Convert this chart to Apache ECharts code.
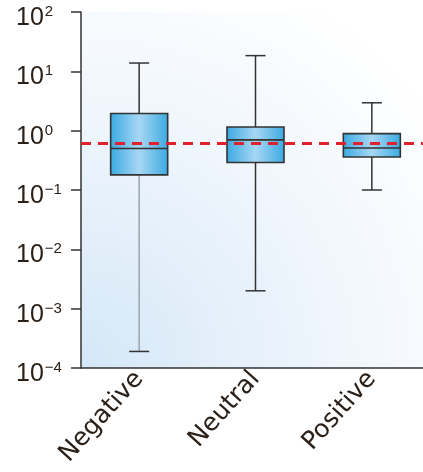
<!DOCTYPE html>
<html>
<head>
<meta charset="utf-8">
<script src="https://cdn.jsdelivr.net/npm/echarts@6/dist/echarts.min.js"></script>
<style>
  html, body { margin: 0; padding: 0; background: #fff; }
  #chart { width: 423px; height: 472px; }
</style>
</head>
<body>
<div id="chart"></div>
<script>
// data
const categories = ["Negative", "Neutral", "Positive"];
const minVals = [1.9e-4, 2.0e-3, 0.1];
const q1Vals = [0.18, 0.29, 0.36];
const medianVals = [0.5, 0.7, 0.51];
const q3Vals = [1.95, 1.15, 0.89];
const maxVals = [13.8, 18.4, 2.95];
const refValue = 0.61;

// lower whisker of "Negative" is drawn lighter in the original
const lowerWhiskerColors = ["#9aa4ac", "#333333", "#333333"];

let chart = echarts.init(document.getElementById("chart"));

let boxData = categories.map((c, i) => [i, minVals[i], q1Vals[i], medianVals[i], q3Vals[i], maxVals[i]]);

const txtColor = "#2b2118";

function renderBox(params, api) {
  let idx = api.value(0);
  let pMin = api.coord([idx, api.value(1)]);
  let pQ1 = api.coord([idx, api.value(2)]);
  let pMed = api.coord([idx, api.value(3)]);
  let pQ3 = api.coord([idx, api.value(4)]);
  let pMax = api.coord([idx, api.value(5)]);
  let x = pMed[0];
  let bandW = api.size([1, 0])[0];
  let half = bandW * 0.245;
  let cap = 10;
  let dark = "#333333";

  let boxFill = new echarts.graphic.LinearGradient(0, 0, 1, 0, [
    { offset: 0, color: "#3aa9e1" },
    { offset: 0.5, color: "#a7d7f4" },
    { offset: 1, color: "#3aa9e1" },
  ]);

  return {
    type: "group",
    children: [
      // upper whisker
      { type: "line", shape: { x1: x, y1: pQ3[1], x2: x, y2: pMax[1] }, style: { stroke: dark, lineWidth: 1.5 } },
      { type: "line", shape: { x1: x - cap, y1: pMax[1], x2: x + cap, y2: pMax[1] }, style: { stroke: dark, lineWidth: 1.5 } },
      // lower whisker
      { type: "line", shape: { x1: x, y1: pQ1[1], x2: x, y2: pMin[1] }, style: { stroke: lowerWhiskerColors[idx], lineWidth: 1.5 } },
      { type: "line", shape: { x1: x - cap, y1: pMin[1], x2: x + cap, y2: pMin[1] }, style: { stroke: dark, lineWidth: 1.5 } },
      // box
      {
        type: "rect",
        shape: { x: x - half, y: pQ3[1], width: half * 2, height: pQ1[1] - pQ3[1] },
        style: { fill: boxFill, stroke: dark, lineWidth: 1.6 },
      },
      // median
      { type: "line", shape: { x1: x - half, y1: pMed[1], x2: x + half, y2: pMed[1] }, style: { stroke: dark, lineWidth: 1.6 } },
    ],
  };
}

let option = {
  animation: false,
  grid: {
    left: 81,
    top: 12,
    width: 349,
    bottom: 104,
    outerBoundsMode: "none",
    containLabel: false,
    show: true,
    borderWidth: 0,
    backgroundColor: new echarts.graphic.RadialGradient(0, 1, 1.25, [
      { offset: 0, color: "#d4e7f7" },
      { offset: 0.55, color: "#eef5fc" },
      { offset: 1, color: "#ffffff" },
    ]),
  },
  xAxis: {
    type: "category",
    data: categories,
    boundaryGap: true,
    axisLine: { lineStyle: { color: "#333", width: 1.5 } },
    axisTick: { alignWithLabel: true, length: 8, lineStyle: { color: "#333", width: 1.5 } },
    axisLabel: {
      rotate: 48,
      margin: 7,
      color: txtColor,
      fontSize: 25,
      fontFamily: "DejaVu Sans",
    },
    splitLine: { show: false },
  },
  yAxis: {
    type: "log",
    logBase: 10,
    min: 1e-4,
    max: 100,
    axisLine: { show: true, lineStyle: { color: "#333", width: 1.5 } },
    axisTick: { show: true, length: 10, lineStyle: { color: "#333", width: 1.5 } },
    splitLine: { show: false },
    axisLabel: {
      margin: 65,
      align: "left",
      padding: [12, 0, 0, 0],
      formatter: function (v) {
        let e = Math.round(Math.log10(v));
        let s = e < 0 ? "\u2212" + (-e) : "" + e;
        return "{b|10}{s|" + s + "}";
      },
      rich: {
        b: { fontSize: 25, color: txtColor, fontFamily: "Liberation Sans" },
        s: { fontSize: 15, color: txtColor, fontFamily: "Liberation Sans", padding: [0, 0, 12, 1] },
      },
    },
  },
  series: [
    {
      type: "custom",
      renderItem: renderBox,
      data: boxData,
      encode: { x: 0, y: [1, 2, 3, 4, 5] },
      clip: false,
      z: 2,
      markLine: {
        silent: true,
        symbol: "none",
        label: { show: false },
        lineStyle: { color: "#e0202b", type: [10, 7], width: 3 },
        data: [{ yAxis: refValue }],
        z: 3,
      },
    },
  ],
};

chart.setOption(option);
</script>
</body>
</html>
